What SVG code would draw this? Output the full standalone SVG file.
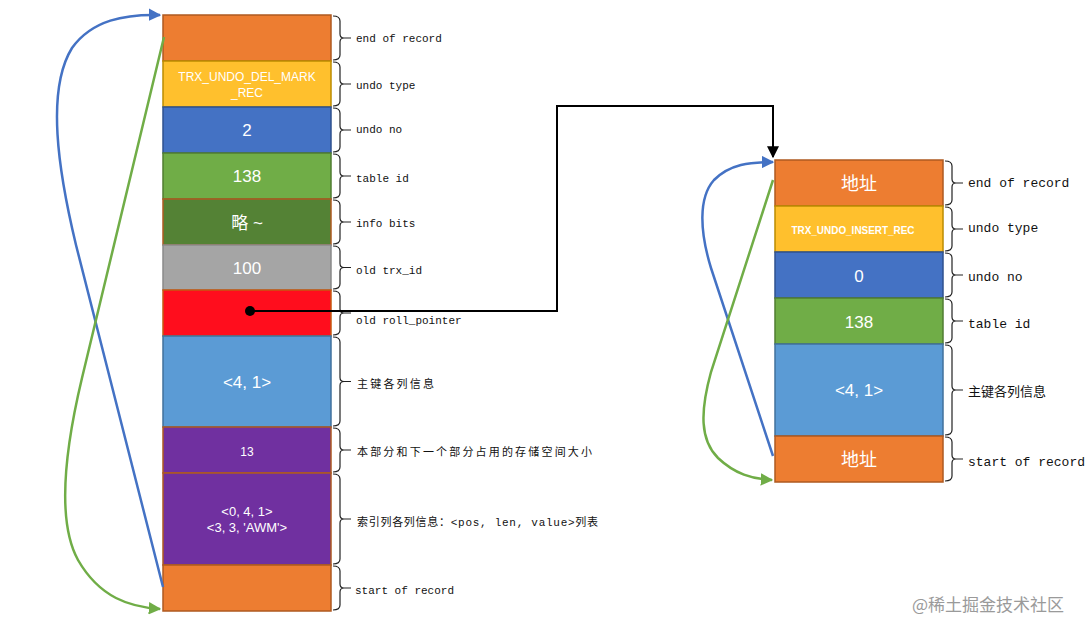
<svg xmlns="http://www.w3.org/2000/svg" width="1092" height="633" viewBox="0 0 1092 633">
<defs>
<style>
.cell{stroke-width:1.5}
.v{fill:#fff;font-family:"Liberation Sans",Arial,sans-serif;text-anchor:middle}
.lab{fill:#111;font-family:"Liberation Mono","DejaVu Sans Mono","Noto Sans CJK SC",monospace;font-size:11px}
.labr{fill:#111;font-family:"Liberation Mono","DejaVu Sans Mono","Noto Sans CJK SC",monospace;font-size:13px}
.cjk{font-family:"Noto Sans CJK SC","Liberation Mono",sans-serif}
.br{fill:none;stroke:#222;stroke-width:1.2}
</style>
<marker id="ab" viewBox="0 0 10 10" refX="9" refY="5" markerWidth="5" markerHeight="5" orient="auto" markerUnits="strokeWidth"><path d="M0,0L10,5L0,10z" fill="#4472C4"/></marker>
<marker id="ag" viewBox="0 0 10 10" refX="9" refY="5" markerWidth="5" markerHeight="5" orient="auto" markerUnits="strokeWidth"><path d="M0,0L10,5L0,10z" fill="#70AD47"/></marker>
<marker id="ak" viewBox="0 0 10 10" refX="9" refY="5" markerWidth="6" markerHeight="6" orient="auto" markerUnits="strokeWidth"><path d="M0,0L10,5L0,10z" fill="#000"/></marker>
</defs>
<rect width="1092" height="633" fill="#fff"/>

<g id="left-record">
<g id="L-end"><rect class="cell" x="163" y="15" width="168" height="46" fill="#ED7D31" stroke="#AE5A21"/></g>
<g id="L-type"><rect class="cell" x="163" y="61" width="168" height="46" fill="#FFC02D" stroke="#BC8C00"/>
<text class="v" x="247" y="81" font-size="12">TRX_UNDO_DEL_MARK</text><text class="v" x="247" y="97" font-size="12">_REC</text></g>
<g id="L-no"><rect class="cell" x="163" y="107" width="168" height="46" fill="#4472C4" stroke="#2F528F"/><text class="v" x="247" y="136" font-size="17">2</text></g>
<g id="L-table"><rect class="cell" x="163" y="153" width="168" height="46" fill="#70AD47" stroke="#507E32"/><text class="v" x="247" y="182" font-size="17">138</text></g>
<g id="L-info"><rect class="cell" x="163" y="199" width="168" height="46" fill="#548235" stroke="#AE5A21"/><text class="v" x="247" y="229" font-size="17"><tspan class="cjk">略</tspan> ~</text></g>
<g id="L-trx"><rect class="cell" x="163" y="245" width="168" height="45" fill="#A5A5A5" stroke="#8A8A8A"/><text class="v" x="247" y="274" font-size="17">100</text></g>
<g id="L-roll"><rect class="cell" x="163" y="290" width="168" height="46" fill="#FF0D1D" stroke="#C55A11"/></g>
<g id="L-pk"><rect class="cell" x="163" y="336" width="168" height="91" fill="#5B9BD5" stroke="#41719C"/><text class="v" x="247" y="388" font-size="17">&lt;4, 1&gt;</text></g>
<g id="L-size"><rect class="cell" x="163" y="427" width="168" height="46" fill="#7030A0" stroke="#AE5A21"/><text class="v" x="247" y="456" font-size="12">13</text></g>
<g id="L-idx"><rect class="cell" x="163" y="473" width="168" height="92" fill="#7030A0" stroke="#AE5A21"/>
<text class="v" x="247" y="516" font-size="13">&lt;0, 4, 1&gt;</text><text class="v" x="247" y="532" font-size="13">&lt;3, 3, 'AWM'&gt;</text></g>
<g id="L-start"><rect class="cell" x="163" y="565" width="168" height="46" fill="#ED7D31" stroke="#AE5A21"/></g>
</g>

<g id="left-labels">
<path class="br" d="M333,16Q340,16 340,21L340,34Q340,38 344,38Q340,38 340,42L340,55Q340,60 333,60M344,38H351"/>
<path class="br" d="M333,62Q340,62 340,67L340,80Q340,84 344,84Q340,84 340,88L340,101Q340,106 333,106M344,84H351"/>
<path class="br" d="M333,108Q340,108 340,113L340,126Q340,130 344,130Q340,130 340,134L340,147Q340,152 333,152M344,130H351"/>
<path class="br" d="M333,154Q340,154 340,159L340,172Q340,176 344,176Q340,176 340,180L340,193Q340,198 333,198M344,176H351"/>
<path class="br" d="M333,200Q340,200 340,205L340,218Q340,222 344,222Q340,222 340,226L340,239Q340,244 333,244M344,222H351"/>
<path class="br" d="M333,246Q340,246 340,251L340,263.5Q340,267.5 344,267.5Q340,267.5 340,271.5L340,284Q340,289 333,289M344,267.5H351"/>
<path class="br" d="M333,291Q340,291 340,296L340,309Q340,313 344,313Q340,313 340,317L340,330Q340,335 333,335M344,313H351"/>
<path class="br" d="M333,337Q340,337 340,342L340,377.5Q340,381.5 344,381.5Q340,381.5 340,385.5L340,421Q340,426 333,426M344,381.5H351"/>
<path class="br" d="M333,428Q340,428 340,433L340,446Q340,450 344,450Q340,450 340,454L340,467Q340,472 333,472M344,450H351"/>
<path class="br" d="M333,474Q340,474 340,479L340,515Q340,519 344,519Q340,519 340,523L340,559Q340,564 333,564M344,519H351"/>
<path class="br" d="M333,566Q340,566 340,571L340,584Q340,588 344,588Q340,588 340,592L340,605Q340,610 333,610M344,588H351"/>
<text class="lab" x="356" y="42">end of record</text>
<text class="lab" x="356" y="89">undo type</text>
<text class="lab" x="356" y="133">undo no</text>
<text class="lab" x="356" y="182">table id</text>
<text class="lab" x="356" y="227">info bits</text>
<text class="lab" x="356" y="274">old trx_id</text>
<text class="lab" x="356" y="324">old roll_pointer</text>
<text class="lab cjk" x="357" y="388" textLength="77" lengthAdjust="spacing">主键各列信息</text>
<text class="lab cjk" x="357" y="456" textLength="235" lengthAdjust="spacing">本部分和下一个部分占用的存储空间大小</text>
<text class="lab" x="357" y="526" textLength="241" lengthAdjust="spacing"><tspan class="cjk">索引列各列信息：</tspan>&lt;pos, len, value&gt;<tspan class="cjk">列表</tspan></text>
<text class="lab" x="355" y="594">start of record</text>
</g>

<g id="right-record">
<g id="R-end"><rect class="cell" x="775" y="160" width="168" height="46" fill="#ED7D31" stroke="#AE5A21"/><text class="v cjk" x="859" y="190" font-size="18">地址</text></g>
<g id="R-type"><rect class="cell" x="775" y="206" width="168" height="46" fill="#FFC02D" stroke="#BC8C00"/><text class="v" x="853" y="234" font-size="10.5" font-weight="bold" textLength="123" lengthAdjust="spacingAndGlyphs">TRX_UNDO_INSERT_REC</text></g>
<g id="R-no"><rect class="cell" x="775" y="252" width="168" height="46" fill="#4472C4" stroke="#2F528F"/><text class="v" x="859" y="282" font-size="17">0</text></g>
<g id="R-table"><rect class="cell" x="775" y="298" width="168" height="46" fill="#70AD47" stroke="#507E32"/><text class="v" x="859" y="328" font-size="17">138</text></g>
<g id="R-pk"><rect class="cell" x="775" y="344" width="168" height="92" fill="#5B9BD5" stroke="#41719C"/><text class="v" x="859" y="396" font-size="17">&lt;4, 1&gt;</text></g>
<g id="R-start"><rect class="cell" x="775" y="436" width="168" height="46" fill="#ED7D31" stroke="#AE5A21"/><text class="v cjk" x="859" y="466" font-size="18">地址</text></g>
</g>

<g id="right-labels">
<path class="br" d="M945,161Q952,161 952,166L952,179Q952,183 956,183Q952,183 952,187L952,200Q952,205 945,205M956,183H963"/>
<path class="br" d="M945,207Q952,207 952,212L952,225Q952,229 956,229Q952,229 952,233L952,246Q952,251 945,251M956,229H963"/>
<path class="br" d="M945,253Q952,253 952,258L952,271Q952,275 956,275Q952,275 952,279L952,292Q952,297 945,297M956,275H963"/>
<path class="br" d="M945,299Q952,299 952,304L952,317Q952,321 956,321Q952,321 952,325L952,338Q952,343 945,343M956,321H963"/>
<path class="br" d="M945,345Q952,345 952,350L952,386Q952,390 956,390Q952,390 952,394L952,430Q952,435 945,435M956,390H963"/>
<path class="br" d="M945,437Q952,437 952,442L952,455Q952,459 956,459Q952,459 952,463L952,476Q952,481 945,481M956,459H963"/>
<text class="labr" x="968" y="187">end of record</text>
<text class="labr" x="968" y="232">undo type</text>
<text class="labr" x="968" y="281">undo no</text>
<text class="labr" x="968" y="328">table id</text>
<text class="labr cjk" x="968" y="396" font-size="11" textLength="78" lengthAdjust="spacing">主键各列信息</text>
<text class="labr" x="968" y="466">start of record</text>
</g>

<g id="connectors">
<path d="M163,587L76,245C58,170 46,90 72,48C92,20 125,14 160,15" fill="none" stroke="#4472C4" stroke-width="2.5" marker-end="url(#ab)"/>
<path d="M164,37L82,378C66,445 56,520 78,560C100,598 130,607 160,609" fill="none" stroke="#70AD47" stroke-width="2.5" marker-end="url(#ag)"/>
<path d="M773,456L711,268C700,232 698,198 714,180C730,164 750,162 773,162" fill="none" stroke="#4472C4" stroke-width="2.5" marker-end="url(#ab)"/>
<path d="M773,180L711,372C700,412 700,440 718,458C735,474 752,479 772,480" fill="none" stroke="#70AD47" stroke-width="2.5" marker-end="url(#ag)"/>
<circle cx="250" cy="311" r="5" fill="#000"/>
<path d="M250,311H557V106H773V157" fill="none" stroke="#000" stroke-width="2" marker-end="url(#ak)"/>
</g>

<text x="912" y="611" font-family="'Noto Sans CJK SC',sans-serif" font-size="17" fill="#9a9a9a">@稀土掘金技术社区</text>
</svg>
